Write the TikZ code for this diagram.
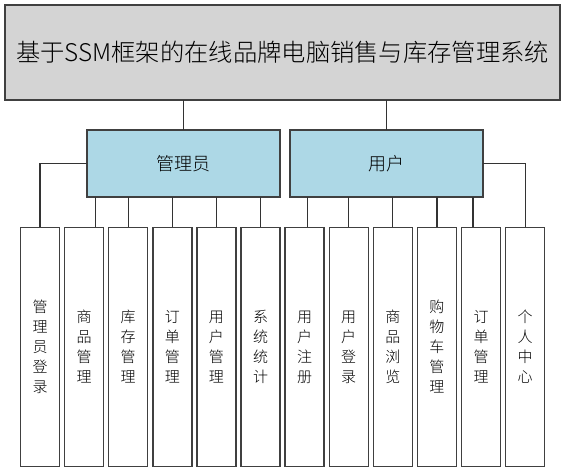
\documentclass[tikz,border=0pt]{standalone}
\usepackage{fontspec}
\IfFontExistsTF{Noto Sans CJK SC Light}
  {\newfontfamily\cjk{Noto Sans CJK SC Light}}
  {\newfontfamily\cjk{Noto Sans CJK SC}}
\begin{document}
\begin{tikzpicture}[x=1pt,y=-1pt,
  every node/.style={inner sep=0pt,outer sep=0pt},
  boxline/.style={draw=black!75,line width=1.4pt},
  titlebox/.style={boxline,fill=black!17,minimum width=555pt,minimum height=95pt,font=\cjk\fontsize{24.3}{28}\selectfont},
  rolebox/.style={boxline,fill=lightblue,minimum width=193pt,minimum height=67pt,font=\cjk\fontsize{18}{22}\selectfont},
  funcbox/.style={boxline,fill=white,minimum width=39pt,minimum height=239.4pt,align=center,font=\cjk\fontsize{15}{20}\selectfont},
  link/.style={draw=black!80,line width=1.2pt}
]
\definecolor{lightblue}{HTML}{ADD8E6}
\useasboundingbox (0,0) rectangle (563,473);
\node[titlebox] (title) at (282.5,52.7) {基于SSM框架的在线品牌电脑销售与库存管理系统};
\node[rolebox] (admin) at (183.5,163.6) {管理员};
\node[rolebox] (user) at (386.5,163.6) {用户};
\node[funcbox] (b1) at (40.0,347) {管\\理\\员\\登\\录};
\node[funcbox] (b2) at (84.1,347) {商\\品\\管\\理};
\node[funcbox] (b3) at (128.2,347) {库\\存\\管\\理};
\node[funcbox] (b4) at (172.3,347) {订\\单\\管\\理};
\node[funcbox] (b5) at (216.4,347) {用\\户\\管\\理};
\node[funcbox] (b6) at (260.5,347) {系\\统\\统\\计};
\node[funcbox] (b7) at (304.6,347) {用\\户\\注\\册};
\node[funcbox] (b8) at (348.7,347) {用\\户\\登\\录};
\node[funcbox] (b9) at (392.8,347) {商\\品\\浏\\览};
\node[funcbox] (b10) at (436.9,347) {购\\物\\车\\管\\理};
\node[funcbox] (b11) at (481.0,347) {订\\单\\管\\理};
\node[funcbox] (b12) at (525.1,347) {个\\人\\中\\心};
\coordinate (k2) at ([xshift=11.4pt]b2.north);
\coordinate (k7) at ([xshift=2.7pt]b7.north);
\coordinate (k11) at ([xshift=-8pt]b11.north);
\draw[link] (admin.north |- title.south) -- (admin.north);
\draw[link] (user.north |- title.south) -- (user.north);
\draw[link] (admin.west) -| (b1.north);
\draw[link] (k2 |- admin.south) -- (k2);
\draw[link] (b3.north |- admin.south) -- (b3.north);
\draw[link] (b4.north |- admin.south) -- (b4.north);
\draw[link] (b5.north |- admin.south) -- (b5.north);
\draw[link] (b6.north |- admin.south) -- (b6.north);
\draw[link] (k7 |- user.south) -- (k7);
\draw[link] (b8.north |- user.south) -- (b8.north);
\draw[link] (b9.north |- user.south) -- (b9.north);
\draw[link] (b10.north |- user.south) -- (b10.north);
\draw[link] (k11 |- user.south) -- (k11);
\draw[link] (user.east) -| (b12.north);
\end{tikzpicture}
\end{document}
